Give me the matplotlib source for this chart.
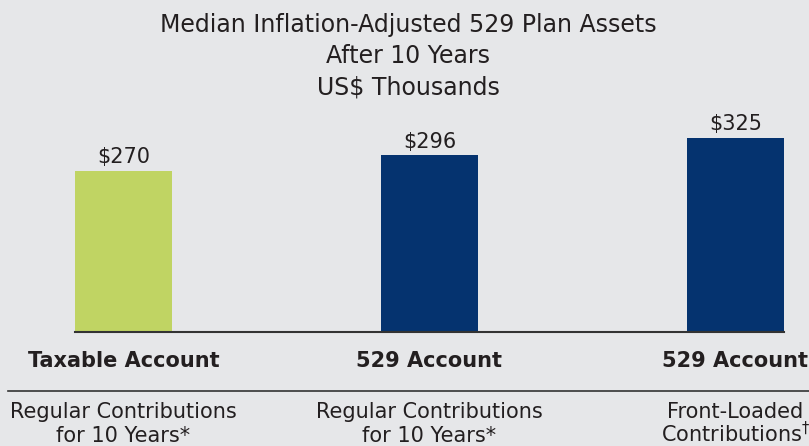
import matplotlib.pyplot as plt
from matplotlib import transforms

# ============================================================
# DATA
# ============================================================
title_lines = ["Median Inflation-Adjusted 529 Plan Assets", "After 10 Years", "US$ Thousands"]
accounts = ["Taxable Account", "529 Account", "529 Account"]
details = [["Regular Contributions", "for 10 Years*"],
           ["Regular Contributions", "for 10 Years*"],
           ["Front-Loaded", "Contributions$^{\\dagger}$"]]
values = [270, 296, 325]
colors = ["#c0d463", "#05336f", "#05336f"]

bg = "#e6e7e9"
text_color = "#231f20"
bar_width = 0.317

# ============================================================
# FIGURE
# ============================================================
plt.rcParams["font.family"] = ["DejaVu Sans"]
fig = plt.figure(figsize=(8.09, 4.46), dpi=100, facecolor=bg)
ax = fig.add_axes([75 / 809, 1 - 332 / 446, 709 / 809, 239 / 446])
ax.set_facecolor(bg)

x = list(range(len(values)))
ax.bar(x, values, width=bar_width, color=colors, zorder=2)
ax.set_xlim(-bar_width / 2, x[-1] + bar_width / 2)
ax.set_ylim(0, 400)

for xi, v in zip(x, values):
    ax.text(xi, v + 6, f"${v}", ha="center", va="bottom", fontsize=15, color=text_color)

for side in ["top", "left", "right"]:
    ax.spines[side].set_visible(False)
ax.spines["bottom"].set_color("#333333")
ax.spines["bottom"].set_linewidth(1.5)
ax.set_xticks([])
ax.set_yticks([])

# title
for i, line in enumerate(title_lines):
    fig.text(408 / 809, 1 - (25 + 31 * i) / 446, line, ha="center", va="center",
             fontsize=17, color=text_color)

# labels under the bars
tr = transforms.blended_transform_factory(ax.transData, fig.transFigure)
for xi, acc, det in zip(x, accounts, details):
    ax.text(xi, 1 - 367 / 446, acc, transform=tr, ha="center", va="baseline",
            fontsize=15, fontweight="bold", color=text_color, clip_on=False)
    for j, line in enumerate(det):
        ax.text(xi, 1 - (418 + 24 * j) / 446, line, transform=tr, ha="center",
                va="baseline", fontsize=15, color=text_color, clip_on=False)

# separator line
fig.add_artist(plt.Line2D([8 / 809, 1.0], [1 - 391 / 446] * 2, color="#333333",
                          linewidth=1.2, transform=fig.transFigure))

fig.savefig("out.png", dpi=100, facecolor=bg)
